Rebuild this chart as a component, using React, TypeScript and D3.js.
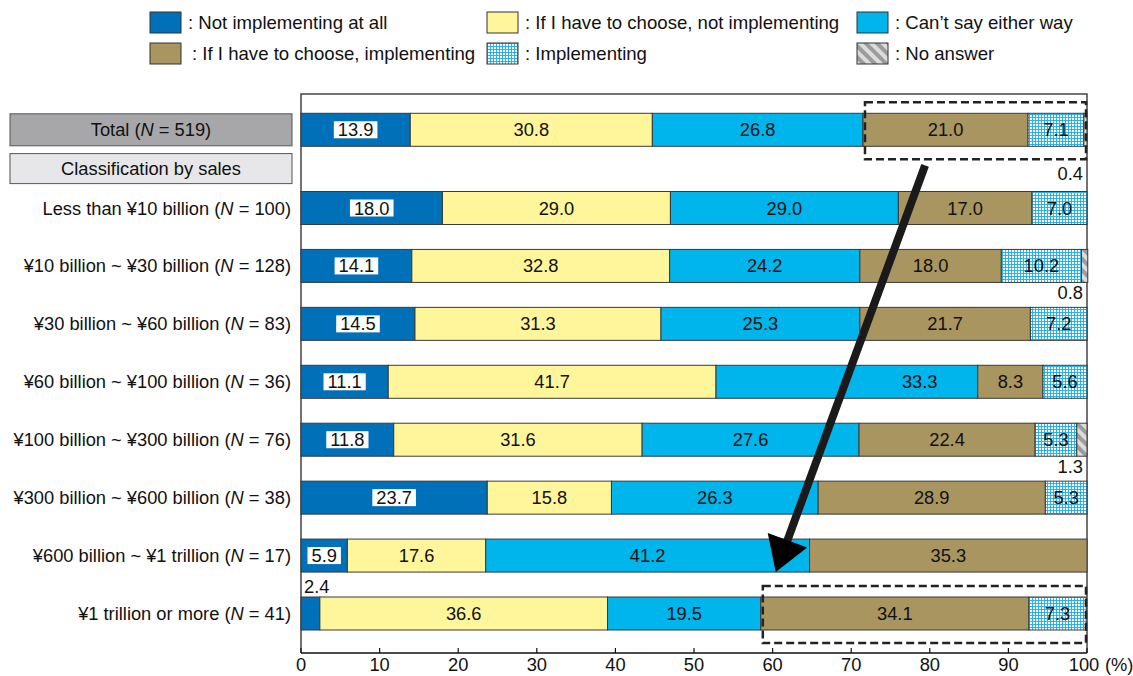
import React, { useEffect, useRef } from 'react';
import * as d3 from 'd3';

// --- Data ---
const seriesNames = [
  'Not implementing at all',
  'If I have to choose, not implementing',
  'Can’t say either way',
  'If I have to choose, implementing',
  'Implementing',
  'No answer',
];
const rowLabels = [
  'Total',
  'Less than ¥10 billion',
  '¥10 billion ~ ¥30 billion',
  '¥30 billion ~ ¥60 billion',
  '¥60 billion ~ ¥100 billion',
  '¥100 billion ~ ¥300 billion',
  '¥300 billion ~ ¥600 billion',
  '¥600 billion ~ ¥1 trillion',
  '¥1 trillion or more',
];
const sampleSizes = [519, 100, 128, 83, 36, 76, 38, 17, 41];
const notImplementing = [13.9, 18.0, 14.1, 14.5, 11.1, 11.8, 23.7, 5.9, 2.4];
const chooseNotImplementing = [30.8, 29.0, 32.8, 31.3, 41.7, 31.6, 15.8, 17.6, 36.6];
const cantSay = [26.8, 29.0, 24.2, 25.3, 33.3, 27.6, 26.3, 41.2, 19.5];
const chooseImplementing = [21.0, 17.0, 18.0, 21.7, 8.3, 22.4, 28.9, 35.3, 34.1];
const implementing = [7.1, 7.0, 10.2, 7.2, 5.6, 5.3, 5.3, 0, 7.3];
const noAnswer = [0.4, 0, 0.8, 0, 0, 1.3, 0, 0, 0];
const xTicks = [0, 10, 20, 30, 40, 50, 60, 70, 80, 90, 100];
const highlightedRows = [0, 8];
const arrowFrom = 79.4; // % position of arrow start
const arrowTo = 60.4; // % position of arrow tip

const seriesValues = [notImplementing, chooseNotImplementing, cantSay, chooseImplementing, implementing, noAnswer];

const FONT = '"Liberation Sans", Arial, Helvetica, sans-serif';
const FS = '18.3px';
const fills = ['#0070b9', '#fff59b', '#00b5eb', '#a8955f', 'url(#gridPat)', 'url(#stripePat)'];

const Chart = () => {
  const ref = useRef<SVGSVGElement | null>(null);

  useEffect(() => {
    if (!ref.current) return;
    const svg = d3.select(ref.current);
    svg.selectAll('*').remove();

    const x = d3.scaleLinear().domain([0, 100]).range([301, 1087]);
    const yRow = d3.scaleLinear().domain([0, 7]).range([208, 613.5]);
    const rowCenter = (i: number) => (i === 0 ? yRow(-1.35) : yRow(i - 1));
    const barH = 33;
    const plotTop = 94;
    const plotBottom = 653;

    // --- patterns ---
    const defs = svg.append('defs');
    const grid = defs.append('pattern').attr('id', 'gridPat').attr('patternUnits', 'userSpaceOnUse')
      .attr('width', 3).attr('height', 3);
    grid.append('rect').attr('width', 3).attr('height', 3).attr('fill', '#ffffff');
    grid.append('rect').attr('width', 3).attr('height', 0.9).attr('fill', '#16aee8');
    grid.append('rect').attr('width', 0.9).attr('height', 3).attr('fill', '#16aee8');
    const stripe = defs.append('pattern').attr('id', 'stripePat').attr('patternUnits', 'userSpaceOnUse')
      .attr('width', 8).attr('height', 8).attr('patternTransform', 'rotate(-45)');
    stripe.append('rect').attr('width', 8).attr('height', 8).attr('fill', '#9c9c9c');
    stripe.append('rect').attr('width', 4).attr('height', 8).attr('fill', '#dcdcdc');

    // --- stacked data ---
    const table = rowLabels.map((label, i) => {
      const row: any = { label };
      seriesNames.forEach((s, k) => { row[s] = seriesValues[k][i]; });
      return row;
    });
    const stacked = d3.stack().keys(seriesNames)(table);

    // --- legend ---
    const legend = svg.append('g').selectAll('g').data(seriesNames).enter().append('g')
      .attr('transform', (d, i) => `translate(${[150, 487, 857][i % 3]},${[12, 43][Math.floor(i / 3)]})`);
    legend.append('rect').attr('width', 31).attr('height', 21)
      .attr('fill', (d, i) => fills[i]).attr('stroke', '#333').attr('stroke-width', 1);
    legend.append('text').attr('x', (d, i) => (i === 3 ? 42 : 38)).attr('y', 17)
      .style('font-family', FONT).style('font-size', '18.6px').attr('fill', '#111')
      .text(d => `: ${d}`);

    // --- frame ---
    svg.append('path')
      .attr('d', `M${x(0)},${plotBottom}V${plotTop}H${x(100)}V${plotBottom}`)
      .attr('fill', 'none').attr('stroke', '#444').attr('stroke-width', 1.5);

    // --- left side boxes ---
    const boxW = 282;
    svg.append('rect').attr('x', 10).attr('y', rowCenter(0) - 16).attr('width', boxW).attr('height', 32)
      .attr('fill', '#a7a7a9').attr('stroke', '#555').attr('stroke-width', 1);
    const classY = yRow(-0.68);
    svg.append('rect').attr('x', 10).attr('y', classY - 15).attr('width', boxW).attr('height', 30)
      .attr('fill', '#e7e7e9').attr('stroke', '#555').attr('stroke-width', 1);
    svg.append('text').attr('x', 10 + boxW / 2).attr('y', classY + 6.5).attr('text-anchor', 'middle')
      .style('font-family', FONT).style('font-size', FS).attr('fill', '#111')
      .text('Classification by sales');

    // row labels
    rowLabels.forEach((label, i) => {
      const t = svg.append('text')
        .attr('x', i === 0 ? 10 + boxW / 2 : 291)
        .attr('y', rowCenter(i) + 6.5)
        .attr('text-anchor', i === 0 ? 'middle' : 'end')
        .style('font-family', FONT).style('font-size', FS).attr('fill', '#111');
      t.append('tspan').text(`${label} (`);
      t.append('tspan').style('font-style', 'italic').text('N');
      t.append('tspan').text(` = ${sampleSizes[i]})`);
    });

    // --- bars ---
    stacked.forEach((layer, k) => {
      svg.append('g').selectAll('rect').data(layer).enter()
        .filter(d => d[1] - d[0] > 0)
        .append('rect')
        .attr('x', d => x(d[0]))
        .attr('y', d => rowCenter(rowLabels.indexOf((d as any).data.label)) - barH / 2)
        .attr('width', d => x(d[1]) - x(d[0]))
        .attr('height', barH)
        .attr('fill', fills[k])
        .attr('stroke', '#3a3a3a').attr('stroke-width', 1);
    });

    // --- value labels ---
    stacked.forEach((layer, k) => {
      layer.forEach((d, i) => {
        const v = seriesValues[k][i];
        if (!(v > 0)) return;
        const cy = rowCenter(i);
        if (v < 3) {
          if (k === 0) {
            svg.append('text').attr('x', x(d[0]) + 3).attr('y', cy - barH / 2 - 4)
              .style('font-family', FONT).style('font-size', FS).attr('fill', '#111')
              .text(v.toFixed(1));
          } else {
            const below = highlightedRows.includes(i) ? 34 : 17;
            svg.append('text').attr('x', x(100) - 4).attr('y', cy + barH / 2 + below).attr('text-anchor', 'end')
              .style('font-family', FONT).style('font-size', FS).attr('fill', '#111')
              .text(v.toFixed(1));
          }
          return;
        }
        let cx = (x(d[0]) + x(d[1])) / 2;
        // keep the label clear of the arrow where it crosses the segment
        if (k === 2 && i === 4) cx = x(d[1]) - 58;
        const g = svg.append('g');
        const t = g.append('text').attr('x', cx).attr('y', cy + 6.5).attr('text-anchor', 'middle')
          .style('font-family', FONT).style('font-size', FS).attr('fill', '#111')
          .text(v.toFixed(1));
        if (k === 0) {
          const w = (t.node() as SVGTextElement).getComputedTextLength() + 8;
          g.insert('rect', 'text').attr('x', cx - w / 2).attr('y', cy - 8.5).attr('width', w).attr('height', 17)
            .attr('fill', '#ffffff');
        }
      });
    });

    // --- bottom axis ---
    svg.append('line').attr('x1', x(0)).attr('x2', x(100)).attr('y1', plotBottom).attr('y2', plotBottom)
      .attr('stroke', '#111').attr('stroke-width', 1.5);
    svg.append('g').selectAll('line').data(xTicks).enter().append('line')
      .attr('x1', d => x(d)).attr('x2', d => x(d)).attr('y1', plotBottom).attr('y2', plotBottom - 5)
      .attr('stroke', '#111').attr('stroke-width', 1.2);
    svg.append('g').selectAll('text').data(xTicks).enter().append('text')
      .attr('x', d => x(d) - (d === 100 ? 3 : 0)).attr('y', 671).attr('text-anchor', 'middle')
      .style('font-family', FONT).style('font-size', FS).attr('fill', '#111')
      .text(d => d);
    svg.append('text').attr('x', x(100) + 18).attr('y', 671)
      .style('font-family', FONT).style('font-size', FS).attr('fill', '#111').text('(%)');

    // --- dashed highlight boxes ---
    highlightedRows.forEach(i => {
      const start = stacked[3][i][0];
      const cy = rowCenter(i);
      svg.append('rect')
        .attr('x', x(start) + 2).attr('y', cy - barH / 2 - 11)
        .attr('width', x(100) - 1 - (x(start) + 2)).attr('height', barH + 24)
        .attr('fill', 'none').attr('stroke', '#222').attr('stroke-width', 2.5)
        .attr('stroke-dasharray', '8,4');
    });

    // --- arrow ---
    const sx = x(arrowFrom), sy = rowCenter(0) + barH / 2 + 19;
    const tx = x(arrowTo), ty = rowCenter(7) + barH / 2;
    const len = Math.hypot(tx - sx, ty - sy);
    const ux = (tx - sx) / len, uy = (ty - sy) / len;
    const headLen = 34, headHalf = 21;
    const bx = tx - ux * headLen, by = ty - uy * headLen;
    svg.append('line').attr('x1', sx).attr('y1', sy).attr('x2', bx + ux * 2).attr('y2', by + uy * 2)
      .attr('stroke', '#1a1a1a').attr('stroke-width', 8);
    svg.append('polygon')
      .attr('points', [[tx, ty], [bx - uy * headHalf, by + ux * headHalf], [bx + uy * headHalf, by - ux * headHalf]]
        .map(p => p.join(',')).join(' '))
      .attr('fill', '#000');
  }, []);

  return (
    <svg ref={ref} width={1133} height={676}
      style={{ position: 'absolute', left: 0, top: 0, background: '#fff' }} />
  );
};

export default function App() {
  return <Chart />;
}
